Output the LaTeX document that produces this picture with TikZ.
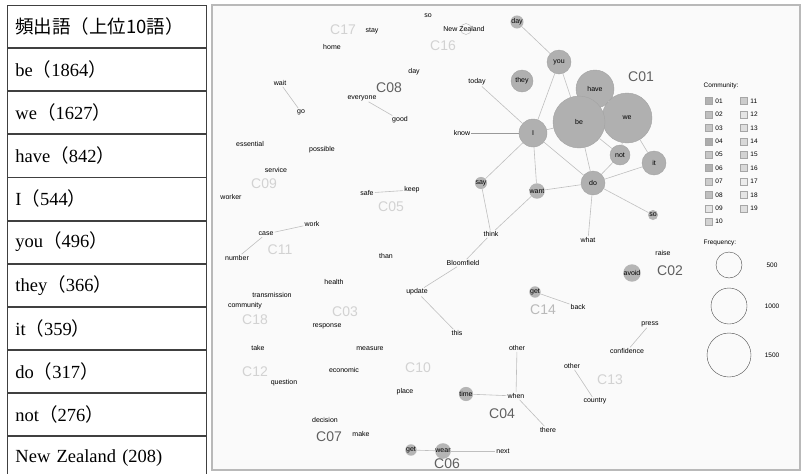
\documentclass[tikz,border=0pt]{standalone}
\usepackage{fontspec}
\setmainfont{Liberation Serif}
\setsansfont{Liberation Sans}
\newfontfamily\cjk{Noto Sans CJK JP}
\usetikzlibrary{positioning}
\newcommand{\fw}[1]{{\cjk（}#1{\cjk）}}
\tikzset{
	cell/.style={draw=black!75,line width=0.9pt,minimum height=42.2pt,
		text width=183pt,inner xsep=8pt,align=left,
		font=\fontsize{18.5}{20}\selectfont},
	panel/.style={fill=gray!4,draw=gray!55,line width=1.2pt},
	word/.style={font=\sffamily\fontsize{7}{7}\selectfont,inner sep=1pt},
	hub/.style={circle,word,fill=gray!62,draw=gray!72,inner sep=0pt},
	dot/.style={circle,word,fill=gray!58,minimum size=10pt,inner sep=0pt},
	comm/.style={font=\sffamily\fontsize{14}{14}\selectfont,text=gray!75!black,inner sep=0pt},
	faint/.style={comm,text=gray!35},
	link/.style={draw=gray!50,line width=0.6pt},
	swatch/.style={draw=gray!70,minimum size=7pt,inner sep=0pt},
	legend/.style={font=\sffamily\fontsize{6.5}{6.5}\selectfont,inner sep=0.5pt}
}

\begin{document}
\begin{tikzpicture}[x=1pt,y=-1pt]
	\useasboundingbox (0,0) rectangle (804,474);
	
	% word frequency table
	\node[cell,anchor=north west,font=\cjk\fontsize{18.5}{20}\selectfont] (r0) at (7,5) {頻出語（上位10語）};
	\node[cell,below=0pt of r0] (r1) {be\fw{1864}};
	\node[cell,below=0pt of r1] (r2) {we\fw{1627}};
	\node[cell,below=0pt of r2] (r3) {have\fw{842}};
	\node[cell,below=0pt of r3] (r4) {I\fw{544}};
	\node[cell,below=0pt of r4] (r5) {you\fw{496}};
	\node[cell,below=0pt of r5] (r6) {they\fw{366}};
	\node[cell,below=0pt of r6] (r7) {it\fw{359}};
	\node[cell,below=0pt of r7] (r8) {do\fw{317}};
	\node[cell,below=0pt of r8] (r9) {not\fw{276}};
	\node[cell,below=0pt of r9,font=\fontsize{18.5}{20}\selectfont] (r10) {New Zealand (208)};
	
	% co-occurrence network
	\draw[panel] (212,5) rectangle (800,470);
	
	\node[hub,minimum size=38pt] (have) at (595,89) {have};
	\node[hub,minimum size=50pt] (we) at (627,118) {we};
	\node[hub,minimum size=52pt] (be) at (579,122) {be};
	\node[hub,minimum size=28pt] (I) at (533,133) {I};
	\node[hub,minimum size=24pt] (you) at (559,62) {you};
	\node[hub,minimum size=22pt] (they) at (522,81) {they};
	\node[hub,minimum size=24pt] (it) at (654,163) {it};
	\node[hub,minimum size=24pt] (do) at (593,183) {do};
	\node[hub,minimum size=20pt] (not) at (620,155) {not};
	\node[comm] (c01) at (641,77) {C01};
	
	\node[dot] (day1) at (517,22) {day};
	\node[word] (know) at (462,133) {know};
	\node[word] (today) at (477,82) {today};
	\node[dot] (say) at (481,183) {say};
	\node[dot] (want) at (537,191) {want};
	\node[dot] (so2) at (653,215) {so};
	\node[word] (what) at (588,240) {what};
	\node[word] (think) at (491,234) {think};
	\node[word] (Bloomfield) at (463,263) {Bloomfield};
	\node[word] (update) at (417,292) {update};
	\node[word] (this) at (457,333) {this};
	
	\node[word] (raise) at (663,253) {raise};
	\node[comm] (c02) at (670,271) {C02};
	\node[dot,minimum size=14pt] (avoid) at (632,273) {avoid};
	\node[word] (press) at (650,324) {press};
	\node[word] (confidence) at (627,351) {confidence};
	
	\node[faint] (c17) at (343,30) {C17};
	\node[word] (stay) at (372,31) {stay};
	\node[word] (home) at (332,47) {home};
	\node[word] (so1) at (428,16) {so};
	\node[circle,draw=gray!60,minimum size=11pt] at (466,29) {};
	\node[word] (nz) at (464,29) {New Zealand};
	\node[faint] (c16) at (443,46) {C16};
	\node[word] (day2) at (414,72) {day};
	\node[comm] (c08) at (389,88) {C08};
	\node[word] (everyone) at (362,98) {everyone};
	\node[word] (good) at (400,120) {good};
	\node[word] (wait) at (280,83) {wait};
	\node[word] (go) at (301,112) {go};
	
	\node[word] (essential) at (250,144) {essential};
	\node[word] (possible) at (322,150) {possible};
	\node[word] (service) at (276,170) {service};
	\node[faint] (c09) at (264,184) {C09};
	\node[word] (worker) at (231,197) {worker};
	\node[word] (safe) at (367,193) {safe};
	\node[word] (keep) at (412,190) {keep};
	\node[faint] (c05) at (391,207) {C05};
	\node[word] (work) at (312,224) {work};
	\node[word] (case) at (266,234) {case};
	\node[faint] (c11) at (280,250) {C11};
	\node[word] (number) at (237,258) {number};
	\node[word] (than) at (386,256) {than};
	
	\node[word] (health) at (334,282) {health};
	\node[word] (transmission) at (272,295) {transmission};
	\node[word] (community) at (245,306) {community};
	\node[faint] (c18) at (255,320) {C18};
	\node[faint] (c03) at (345,312) {C03};
	\node[word] (response) at (327,326) {response};
	\node[word] (take) at (258,348) {take};
	\node[word] (measure) at (370,349) {measure};
	\node[faint] (c10) at (418,368) {C10};
	\node[word] (economic) at (344,370) {economic};
	\node[faint] (c12) at (255,372) {C12};
	\node[word] (question) at (284,383) {question};
	\node[word] (place) at (405,392) {place};
	\node[word] (decision) at (325,420) {decision};
	\node[comm] (c07) at (329,437) {C07};
	\node[word] (make) at (361,434) {make};
	
	\node[dot] (get1) at (411,450) {get};
	\node[dot] (wear) at (443,451) {wear};
	\node[word] (next) at (503,451) {next};
	\node[comm] (c06) at (447,464) {C06};
	\node[dot] (get2) at (535,292) {get};
	\node[comm,text=gray!55] (c14) at (543,310) {C14};
	\node[word] (back) at (578,307) {back};
	\node[word] (other1) at (517,348) {other};
	\node[dot] (time) at (466,394) {time};
	\node[word] (when) at (516,396) {when};
	\node[comm] (c04) at (502,414) {C04};
	\node[word] (there) at (548,430) {there};
	\node[word] (other2) at (572,366) {other};
	\node[faint] (c13) at (610,380) {C13};
	\node[word] (country) at (595,401) {country};
	
	\path[link] (know) edge[draw=gray!80] (I)
		(I) edge (you) (I) edge (be) (I) edge (say) (I) edge (want) (I) edge (do)
		(today) edge (I) (day1) edge (you) (you) edge (be)
		(have) edge (we) (be) edge (not) (be) edge (do) (we) edge (not)
		(we) edge (it) (not) edge (do) (it) edge (do) (do) edge (so2)
		(do) edge (want) (do) edge (what)
		(say) edge (think) (want) edge (think) (think) edge (Bloomfield)
		(Bloomfield) edge (update) (update) edge (this)
		(get2) edge (back) (other1) edge (when) (time) edge (when)
		(when) edge (there) (get1) edge (wear) (wear) edge (next)
		(other2) edge (country) (press) edge (confidence)
		(safe) edge (keep) (work) edge (case) (case) edge (number)
		(everyone) edge (good) (wait) edge (go);
	
	% legend
	\node[legend,anchor=west] (commtitle) at (703,86) {Community:};
	\foreach \n/\s [count=\k from 0] in {01/60,02/50,03/45,04/65,05/45,06/60,07/40,08/50,09/20,10/35}
	{
		\node[swatch,fill=gray!\s] (s\n) at (709,{101+13.4*\k}) {};
		\node[legend,right=2pt of s\n] {\n};
	}
	\foreach \n/\s [count=\k from 0] in {11/40,12/20,13/25,14/30,15/35,16/30,17/15,18/20,19/25}
	{
		\node[swatch,fill=gray!\s] (s\n) at (744,{101+13.4*\k}) {};
		\node[legend,right=2pt of s\n] {\n};
	}
	\node[legend,anchor=west] (freqtitle) at (703,243) {Frequency:};
	\node[circle,draw=black!70,minimum size=26pt] (f1) at (729,265) {};
	\node[circle,draw=black!70,minimum size=36pt] (f2) at (729,306) {};
	\node[circle,draw=black!70,minimum size=44pt] (f3) at (729,355) {};
	\node[legend] at (772,265) {500};
	\node[legend] at (772,306) {1000};
	\node[legend] at (772,355) {1500};
\end{tikzpicture}
\end{document}
